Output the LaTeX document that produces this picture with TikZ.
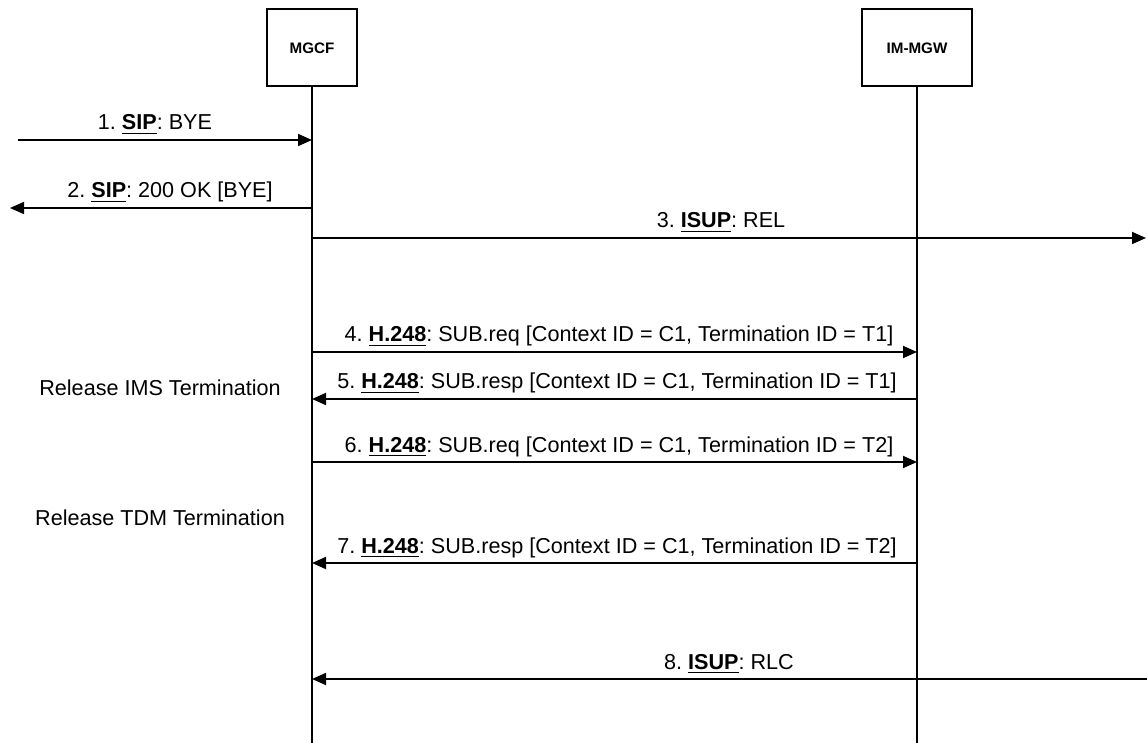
\documentclass[tikz,border=0pt]{standalone}
\usepackage{fontspec}
\setmainfont{Liberation Sans}
\usetikzlibrary{arrows.meta}
\frenchspacing

\begin{document}
\begin{tikzpicture}[
  x=0.5pt, y=-0.5pt,
  % bendri stiliai
  entity/.style={draw, line width=1pt, minimum width=45pt, minimum height=38.5pt, inner sep=0pt, font=\fontsize{7.6}{9}\selectfont\bfseries},
  life/.style={line width=0.9pt},
  msg/.style={line width=0.9pt, -{Triangle[length=7pt,width=6pt]}},
  lbl/.style={anchor=base, inner sep=0pt, font=\fontsize{10.8}{13}\selectfont}
]
  \useasboundingbox (0,0) rectangle (1147,743);

  % Objektai
  \node[entity] (mgcf) at (312,48) {MGCF};
  \node[entity, minimum width=55pt] (mgw) at (917,48) {IM-MGW};

  % Gyvavimo linijos
  \coordinate (mgcfend) at (312,743);
  \coordinate (mgwend) at (917,743);
  \draw[life] (mgcf.south) -- (mgcfend);
  \draw[life] (mgw.south) -- (mgwend);

  % Laisvi galai
  \coordinate (in1) at (18,140);
  \coordinate (out2) at (10,208);
  \coordinate (out3) at (1146,238);
  \coordinate (in8) at (1147,679);

  % Pranesimai
  \draw[msg] (in1) -- (in1 -| mgcf);
  \node[lbl] (t1) at (155,130) {1. \underline{\textbf{SIP}}: BYE};

  \draw[msg] (out2 -| mgcf) -- (out2);
  \node[lbl] (t2) at (170,198) {2. \underline{\textbf{SIP}}: 200 OK [BYE]};

  \draw[msg] (out3 -| mgcf) -- (out3);
  \node[lbl] (t3) at (721,228) {3. \underline{\textbf{ISUP}}: REL};

  \coordinate (y4) at (0,352);
  \draw[msg] (y4 -| mgcf) -- (y4 -| mgw);
  \node[lbl] (t4) at (619,342) {4. \underline{\textbf{H.248}}: SUB.req [Context ID = C1, Termination ID = T1]};

  \coordinate (y5) at (0,399);
  \draw[msg] (y5 -| mgw) -- (y5 -| mgcf);
  \node[lbl] (t5) at (617,389) {5. \underline{\textbf{H.248}}: SUB.resp [Context ID = C1, Termination ID = T1]};

  \coordinate (y6) at (0,462);
  \draw[msg] (y6 -| mgcf) -- (y6 -| mgw);
  \node[lbl] (t6) at (619,452) {6. \underline{\textbf{H.248}}: SUB.req [Context ID = C1, Termination ID = T2]};

  \coordinate (y7) at (0,563);
  \draw[msg] (y7 -| mgw) -- (y7 -| mgcf);
  \node[lbl] (t7) at (617,553) {7. \underline{\textbf{H.248}}: SUB.resp [Context ID = C1, Termination ID = T2]};

  \draw[msg] (in8) -- (in8 -| mgcf);
  \node[lbl] (t8) at (729,669) {8. \underline{\textbf{ISUP}}: RLC};

  % Veiksmai
  \node[lbl] (ims) at (160,396) {Release IMS Termination};
  \node[lbl] (tdm) at (160,525) {Release TDM Termination};

\end{tikzpicture}
\end{document}
